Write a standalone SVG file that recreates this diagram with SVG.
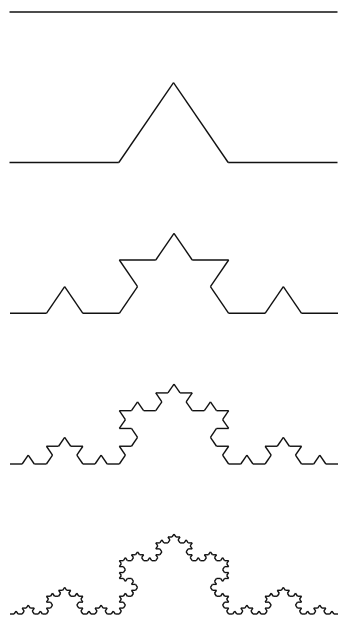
<svg xmlns="http://www.w3.org/2000/svg" width="339" height="621" viewBox="0 0 339 621">
<style>
.seg{stroke:#111;stroke-width:1.4;fill:none;vector-effect:non-scaling-stroke;stroke-linecap:butt}
</style>
<defs>
<path id="k0" class="seg" d="M0,0 L1,0"/>
<g id="k1">
<use href="#k0" transform="scale(0.3333333)"/>
<use href="#k0" transform="translate(0.3333333,0) rotate(-60) scale(0.3333333)"/>
<use href="#k0" transform="translate(0.5,-0.2886751) rotate(60) scale(0.3333333)"/>
<use href="#k0" transform="translate(0.6666667,0) scale(0.3333333)"/>
</g>
<g id="k2">
<use href="#k1" transform="scale(0.3333333)"/>
<use href="#k1" transform="translate(0.3333333,0) rotate(-60) scale(0.3333333)"/>
<use href="#k1" transform="translate(0.5,-0.2886751) rotate(60) scale(0.3333333)"/>
<use href="#k1" transform="translate(0.6666667,0) scale(0.3333333)"/>
</g>
<g id="k3">
<use href="#k2" transform="scale(0.3333333)"/>
<use href="#k2" transform="translate(0.3333333,0) rotate(-60) scale(0.3333333)"/>
<use href="#k2" transform="translate(0.5,-0.2886751) rotate(60) scale(0.3333333)"/>
<use href="#k2" transform="translate(0.6666667,0) scale(0.3333333)"/>
</g>
<g id="k4">
<use href="#k3" transform="scale(0.3333333)"/>
<use href="#k3" transform="translate(0.3333333,0) rotate(-60) scale(0.3333333)"/>
<use href="#k3" transform="translate(0.5,-0.2886751) rotate(60) scale(0.3333333)"/>
<use href="#k3" transform="translate(0.6666667,0) scale(0.3333333)"/>
</g>
</defs>
<rect width="339" height="621" fill="#fff"/>
<g id="level0"><use href="#k0" transform="translate(9.5,12) scale(328,277)"/></g>
<g id="level1"><use href="#k1" transform="translate(9.5,162.5) scale(328,277)"/></g>
<g id="level2"><use href="#k2" transform="translate(10,313.3) scale(328,277)"/></g>
<g id="level3"><use href="#k3" transform="translate(10,464) scale(328,277)"/></g>
<g id="level4"><use href="#k4" transform="translate(10,614) scale(328,277)"/></g>
</svg>
